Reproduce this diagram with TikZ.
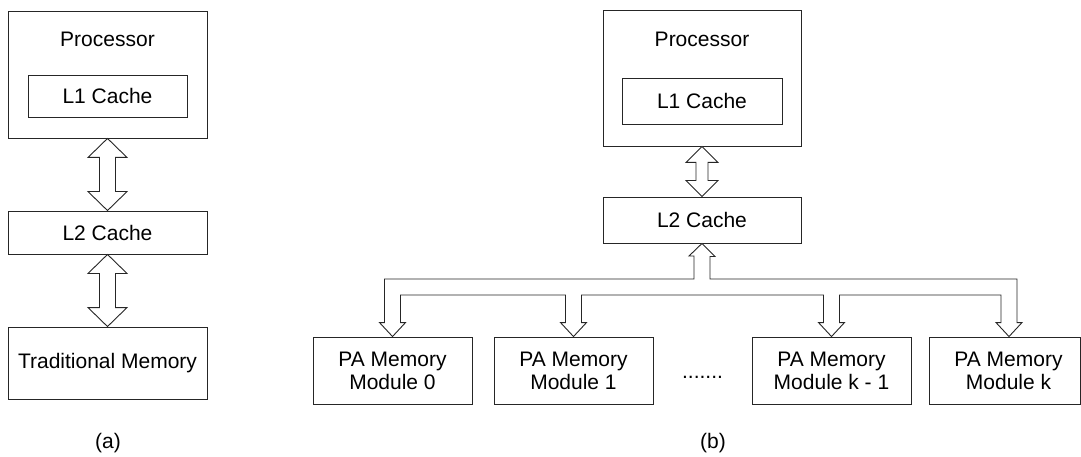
\documentclass[tikz,border=0pt]{standalone}
\usepackage{fontspec}
\setmainfont{Liberation Sans}
\usetikzlibrary{calc}
\begin{document}
\begin{tikzpicture}[x=1pt,y=-1pt,
  every node/.style={font=\fontsize{21}{23}\selectfont, inner sep=0pt},
  box/.style={draw=black!85, line width=0.9pt, fill=white, rectangle, align=center},
  bus/.style={draw=black!85, line width=0.9pt, fill=white, line join=miter},
  lbl/.style={}]
\useasboundingbox (0,0) rectangle (1081,457);

% ---------- (a) ----------
\node[box, minimum width=199pt, minimum height=127pt] (procA) at (107.5,74.5) {};
\node[lbl] (procAt) at (107.5,39) {Processor};
\node[box, minimum width=159pt, minimum height=42pt] (l1A) at (107.5,96) {L1 Cache};
\node[box, minimum width=199pt, minimum height=43pt] (l2A) at (107.5,232.5) {L2 Cache};
\node[box, minimum width=199pt, minimum height=72pt] (memA) at (107.5,363) {Traditional Memory};
\node[lbl] (capA) at (108,443) {(a)};

\draw[bus] (procA.south) -- ++(19.5,19) -- ++(-11.5,0) -- ($(l2A.north)+(8,-19)$) -- ++(11.5,0)
  -- (l2A.north) -- ++(-19.5,-19) -- ++(11.5,0) -- ($(procA.south)+(-8,19)$) -- ++(-11.5,0) -- cycle;
\draw[bus] (l2A.south) -- ++(19.5,19) -- ++(-11.5,0) -- ($(memA.north)+(8,-19)$) -- ++(11.5,0)
  -- (memA.north) -- ++(-19.5,-19) -- ++(11.5,0) -- ($(l2A.south)+(-8,19)$) -- ++(-11.5,0) -- cycle;

% ---------- (b) ----------
\node[box, minimum width=198pt, minimum height=136pt] (procB) at (702,78) {};
\node[lbl] (procBt) at (702,39) {Processor};
\node[box, minimum width=160pt, minimum height=46pt] (l1B) at (702,101) {L1 Cache};
\node[box, minimum width=198pt, minimum height=46pt] (l2B) at (702,220) {L2 Cache};

\draw[bus] (procB.south) -- ++(16,16) -- ++(-10,0) -- ($(l2B.north)+(6,-16)$) -- ++(10,0)
  -- (l2B.north) -- ++(-16,-16) -- ++(10,0) -- ($(procB.south)+(-6,16)$) -- ++(-10,0) -- cycle;

\node[box, minimum width=159pt, minimum height=67pt] (m0) at (392.5,370.5) {PA Memory\\Module 0};
\node[box, minimum width=159pt, minimum height=67pt] (m1) at (573.5,370.5) {PA Memory\\Module 1};
\node[box, minimum width=159pt, minimum height=67pt] (mk1) at (831.5,370.5) {PA Memory\\Module k - 1};
\node[box, minimum width=151pt, minimum height=67pt] (mk) at (1004.5,370.5) {\hspace*{8pt}PA Memory\\\hspace*{8pt}Module k};
\node[anchor=base] (dots) at (702.5,378) {.......};
\node[lbl] (capB) at (713,443) {(b)};

\coordinate (busU) at (702,279);
\coordinate (busL) at (702,295);

\draw[bus]
  (l2B.south) -- ++(13,13) -- ++(-5,0)
  -- ($(l2B.south |- busU)+(8,0)$)
  -- ($(mk.north |- busU)+(12.5,0)$)
  -- ($(mk.north)+(12.5,-14)$) -- ++(5,0) -- ($(mk.north)+(4.5,0)$) -- ++(-13,-14) -- ++(5,0)
  -- ($(mk.north |- busL)+(-3.5,0)$)
  -- ($(mk1.north |- busL)+(8,0)$) -- ($(mk1.north)+(8,-14)$) -- ++(5,0) -- (mk1.north) -- ++(-13,-14) -- ++(5,0)
  -- ($(mk1.north |- busL)+(-8,0)$)
  -- ($(m1.north |- busL)+(8,0)$) -- ($(m1.north)+(8,-14)$) -- ++(5,0) -- (m1.north) -- ++(-13,-14) -- ++(5,0)
  -- ($(m1.north |- busL)+(-8,0)$)
  -- ($(m0.north |- busL)+(8,0)$) -- ($(m0.north)+(8,-14)$) -- ++(5,0) -- (m0.north) -- ++(-13,-14) -- ++(5,0)
  -- ($(m0.north |- busU)+(-8,0)$)
  -- ($(l2B.south |- busU)+(-8,0)$) -- ++(0,-23) -- ++(-5,0) -- cycle;
\end{tikzpicture}
\end{document}
